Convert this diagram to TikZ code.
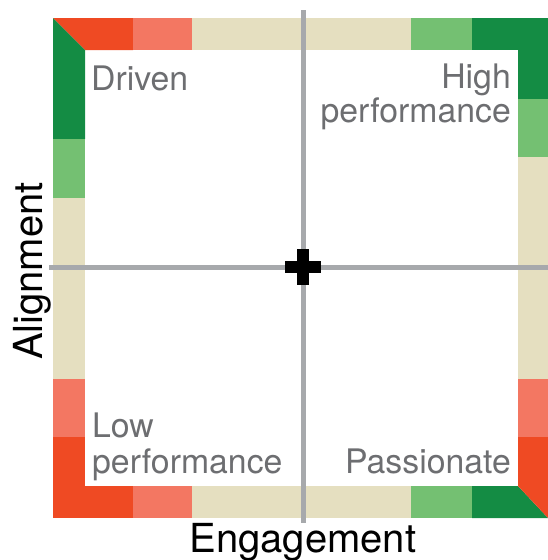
\documentclass[tikz,border=0pt]{standalone}
\usepackage{fontspec}
\setmainfont{TeX Gyre Heros}
\usetikzlibrary{positioning}
\definecolor{hotred}{HTML}{EF4A23}
\definecolor{salmon}{HTML}{F37762}
\definecolor{sand}{HTML}{E5DFC0}
\definecolor{lightgreen}{HTML}{74C072}
\definecolor{darkgreen}{HTML}{148C44}
\definecolor{axisgray}{HTML}{A7A9AC}
\definecolor{labelgray}{HTML}{6D6E71}
\begin{document}
\begin{tikzpicture}[x=1pt, y=-1pt,
    quadlabel/.style={text=labelgray, font=\fontsize{33.8}{34}\selectfont, inner sep=0pt},
    axislabel/.style={text=black, font=\fontsize{40}{44}\selectfont, inner sep=0pt},
    axisline/.style={draw=axisgray, line width=5pt}]
    \useasboundingbox (0,0) rectangle (548,560);

    % top bar
    \fill[hotred] (53,18) -- (133,18) -- (133,50) -- (85,50) -- cycle;
    \fill[salmon] (133,18) rectangle (192,50);
    \fill[sand] (192,18) rectangle (411,50);
    \fill[lightgreen] (411,18) rectangle (472,50);
    \fill[darkgreen] (472,18) rectangle (548,50);

    % left bar
    \fill[darkgreen] (53,18) -- (85,50) -- (85,139) -- (53,139) -- cycle;
    \fill[lightgreen] (53,139) rectangle (85,198);
    \fill[sand] (53,198) rectangle (85,379);
    \fill[salmon] (53,379) rectangle (85,437);
    \fill[hotred] (53,437) rectangle (85,518);

    % bottom bar
    \fill[hotred] (53,486) rectangle (133,518);
    \fill[salmon] (133,486) rectangle (192,518);
    \fill[sand] (192,486) rectangle (411,518);
    \fill[lightgreen] (411,486) rectangle (472,518);
    \fill[darkgreen] (472,486) -- (518,486) -- (548,518) -- (472,518) -- cycle;

    % right bar
    \fill[darkgreen] (518,18) rectangle (548,99);
    \fill[lightgreen] (518,99) rectangle (548,157);
    \fill[sand] (518,157) rectangle (548,379);
    \fill[salmon] (518,379) rectangle (548,437);
    \fill[hotred] (518,437) -- (548,437) -- (548,518) -- (518,486) -- cycle;

    \coordinate (axtop) at (303,10);
    \coordinate (axbottom) at (303,523);
    \coordinate (axleft) at (49,267);
    \coordinate (axright) at (548,267);
    \draw[axisline] (axtop) -- (axbottom);
    \draw[axisline] (axleft) -- (axright);

    \coordinate (origin) at (303,267);
    \fill[black] ([xshift=-18pt,yshift=-6pt]origin) rectangle ([xshift=18pt,yshift=6pt]origin);
    \fill[black] ([xshift=-6pt,yshift=-18pt]origin) rectangle ([xshift=6pt,yshift=18pt]origin);

    \node[quadlabel, anchor=base west] (driven) at (91,90) {Driven};
    \node[quadlabel, anchor=base east, align=right] (high) at (511,122) {High\\performance};
    \node[quadlabel, anchor=base west, align=left] (low) at (92,473) {Low\\[2pt]performance};
    \node[quadlabel, anchor=base east] (passionate) at (511,473) {Passionate};

    \node[axislabel, anchor=base] (engagement) at (303,552) {Engagement};
    \node[axislabel, anchor=base, rotate=90] (alignment) at (42,271) {Alignment};
\end{tikzpicture}
\end{document}
